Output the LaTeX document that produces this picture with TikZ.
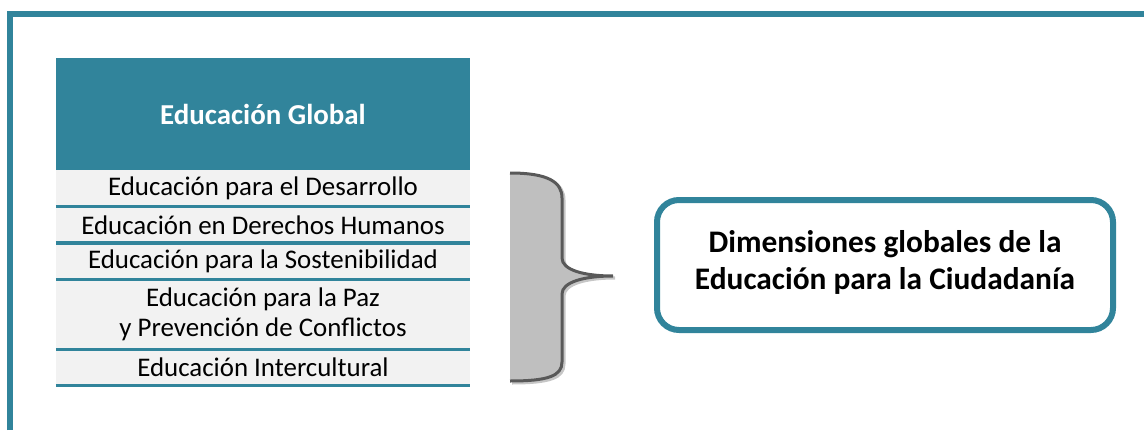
\documentclass[tikz,border=0pt]{standalone}
\usepackage{fontspec}
\setmainfont{Carlito}
\usepackage{tikz}
\usetikzlibrary{positioning,calc}

\definecolor{tealblue}{RGB}{49,132,155}
\definecolor{rowgray}{RGB}{242,242,242}
\definecolor{bracegray}{RGB}{191,191,191}
\definecolor{braceline}{RGB}{89,89,89}

\newcommand{\bracecurve}{(510,257) .. controls (548,257) and (562,248) .. (562,232)
  -- (562,172) .. controls (562,160) and (584,154) .. (613,154)
  .. controls (584,154) and (562,148) .. (562,136)
  -- (562,68) .. controls (562,54) and (548,49) .. (510,49)}

\begin{document}
\begin{tikzpicture}[x=1bp,y=1bp,
    head/.style={fill=tealblue, text=white, font=\fontsize{29}{35}\selectfont\bfseries,
      minimum width=414bp, minimum height=112bp, inner sep=0},
    row/.style={fill=rowgray, font=\fontsize{27}{31}\selectfont, align=center,
      minimum width=414bp, minimum height=36bp, inner sep=0, below=0pt of #1},
    sep/.style={draw=tealblue, line width=3.5bp},
    dim/.style={draw=tealblue, line width=6bp, rounded corners=22bp, align=center,
      font=\fontsize{31.5}{38}\selectfont\bfseries, minimum width=456bp, minimum height=130bp}]

  \useasboundingbox (0,0) rectangle (1144,430);

  % frame
  \draw[tealblue, line width=6bp] (10,0) -- (10,416) -- (1150,416);

  \node[head] (head) at (263,316) {Educación Global};
  \node[row=head] (r1) {Educación para el Desarrollo};
  \node[row=r1] (r2) {Educación en Derechos Humanos};
  \node[row=r2] (r3) {Educación para la Sostenibilidad};
  \node[row=r3, minimum height=69.5bp] (r4) {Educación para la Paz\\y Prevención de Conflictos};
  \node[row=r4] (r5) {Educación Intercultural};

  \foreach \r in {r1,r2,r3,r4,r5}
    \draw[sep] (\r.south west) -- (\r.south east);

  % brace
  \draw[gray!45, line width=3bp, xshift=2bp, yshift=-2bp] \bracecurve;
  \fill[bracegray] \bracecurve -- cycle;
  \draw[braceline, line width=3bp] \bracecurve;

  \node[dim, text depth=10bp] (dim) at (885,165) {Dimensiones globales de la\\Educación para la Ciudadanía};

\end{tikzpicture}
\end{document}
